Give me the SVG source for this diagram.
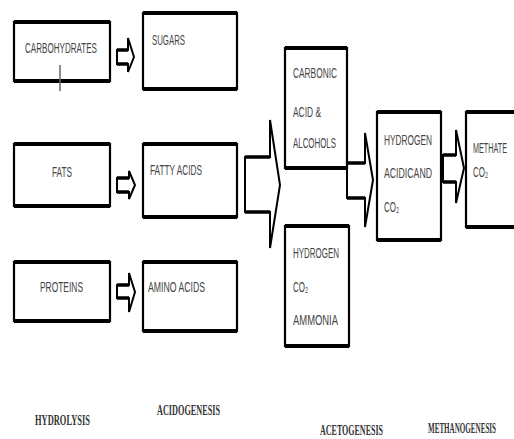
<svg xmlns="http://www.w3.org/2000/svg" width="514" height="439" viewBox="0 0 514 439">
<style>
.box{fill:#fff;stroke:#000;stroke-width:2.2}
.hl{stroke:#000;stroke-width:4;fill:none}
.arr{fill:#fff;stroke:#000;stroke-width:2;stroke-linejoin:miter}
.sh{stroke:#000;stroke-width:3.5;fill:none}
.t{font-family:"Liberation Sans","DejaVu Sans",Arial,sans-serif;font-size:15px;fill:#444}
.s{font-family:"Liberation Serif","Times New Roman",serif;font-size:15px;font-weight:bold;fill:#333}
</style>
<rect width="514" height="439" fill="#fff"/>
<g id="connectors">
<path class="arr" d="M117,50 H128 V38 L134,57 L128,72 V64 H117 Z"/>
<path class="sh" d="M117,50 H128 M117,64 H128"/>
<path class="arr" d="M117,178 H129 V171 L135,185 L129,199 V192 H117 Z"/>
<path class="sh" d="M117,178 H129 M117,192 H129"/>
<path class="arr" d="M117,285 H129 V273 L135,292 L129,312 V298 H117 Z"/>
<path class="sh" d="M117,285 H129 M117,298 H129"/>
<path class="arr" d="M245,157 H270 V120 L280,185 L270,248 V212 H245 Z"/>
<path class="sh" d="M245,157 H270 M245,212 H270"/>
<path class="arr" d="M347,163 H365 V133 L373,180 L365,227 V198 H347 Z"/>
<path class="sh" d="M347,163 H365 M347,198 H365"/>
<path class="arr" d="M443,155 H456 V130 L464,168 L456,203 V182 H443 Z"/>
<path class="sh" d="M443,155 H456 M443,182 H456"/>
</g>
<g id="carbohydrates">
<rect class="box" x="14" y="22" width="96" height="59"/>
<path class="hl" d="M14,22 H110 M14,81 H110"/>
<text class="t" x="25" y="53" textLength="72" lengthAdjust="spacingAndGlyphs">CARBOHYDRATES</text>
<line x1="60" y1="65" x2="60" y2="91" stroke="#666" stroke-width="1.5"/>
</g>
<g id="sugars">
<rect class="box" x="143" y="13" width="94" height="76"/>
<path class="hl" d="M143,13 H237 M143,89 H237"/>
<text class="t" x="152" y="45" textLength="33" lengthAdjust="spacingAndGlyphs">SUGARS</text>
</g>
<g id="fats">
<rect class="box" x="14" y="144" width="96" height="62"/>
<path class="hl" d="M14,144 H110 M14,206 H110"/>
<text class="t" x="52" y="177" textLength="20" lengthAdjust="spacingAndGlyphs">FATS</text>
</g>
<g id="fatty-acids">
<rect class="box" x="143" y="144" width="94" height="73"/>
<path class="hl" d="M143,144 H237 M143,217 H237"/>
<text class="t" x="150" y="175" textLength="52" lengthAdjust="spacingAndGlyphs">FATTY ACIDS</text>
</g>
<g id="proteins">
<rect class="box" x="14" y="262" width="96" height="59"/>
<path class="hl" d="M14,262 H110 M14,321 H110"/>
<text class="t" x="40" y="292" textLength="43" lengthAdjust="spacingAndGlyphs">PROTEINS</text>
</g>
<g id="amino-acids">
<rect class="box" x="143" y="262" width="94" height="69"/>
<path class="hl" d="M143,262 H237 M143,331 H237"/>
<text class="t" x="148" y="292" textLength="57" lengthAdjust="spacingAndGlyphs">AMINO ACIDS</text>
</g>
<g id="carbonic">
<rect class="box" x="285" y="48" width="62" height="120"/>
<path class="hl" d="M285,48 H347 M285,168 H347"/>
<text class="t" x="293" y="78" textLength="44" lengthAdjust="spacingAndGlyphs">CARBONIC</text>
<text class="t" x="293" y="117" textLength="28" lengthAdjust="spacingAndGlyphs">ACID &amp;</text>
<text class="t" x="293" y="148" textLength="43" lengthAdjust="spacingAndGlyphs">ALCOHOLS</text>
</g>
<g id="hydrogen-co2">
<rect class="box" x="285" y="226" width="64" height="120"/>
<path class="hl" d="M285,226 H349 M285,346 H349"/>
<text class="t" x="293" y="258" textLength="46" lengthAdjust="spacingAndGlyphs">HYDROGEN</text>
<text class="t" x="293" y="292" textLength="15" lengthAdjust="spacingAndGlyphs">CO₂</text>
<text class="t" x="293" y="325" textLength="45" lengthAdjust="spacingAndGlyphs">AMMONIA</text>
</g>
<g id="hydrogen-acid">
<rect class="box" x="377" y="112" width="64" height="128"/>
<path class="hl" d="M377,112 H441 M377,240 H441"/>
<text class="t" x="384" y="145" textLength="48" lengthAdjust="spacingAndGlyphs">HYDROGEN</text>
<text class="t" x="384" y="178" textLength="48" lengthAdjust="spacingAndGlyphs">ACIDICAND</text>
<text class="t" x="384" y="212" textLength="15" lengthAdjust="spacingAndGlyphs">CO₂</text>
</g>
<g id="methate">
<rect class="box" x="466" y="112" width="60" height="115"/>
<path class="hl" d="M466,112 H526 M466,227 H526"/>
<text class="t" x="473" y="153" textLength="34" lengthAdjust="spacingAndGlyphs">METHATE</text>
<text class="t" x="473" y="177" textLength="15" lengthAdjust="spacingAndGlyphs">CO₂</text>
</g>
<g id="stages">
<text class="s" x="35" y="425" textLength="55" lengthAdjust="spacingAndGlyphs">HYDROLYSIS</text>
<text class="s" x="157" y="415" textLength="63" lengthAdjust="spacingAndGlyphs">ACIDOGENESIS</text>
<text class="s" x="320" y="435" textLength="63" lengthAdjust="spacingAndGlyphs">ACETOGENESIS</text>
<text class="s" x="428" y="433" textLength="68" lengthAdjust="spacingAndGlyphs">METHANOGENESIS</text>
</g>
</svg>
